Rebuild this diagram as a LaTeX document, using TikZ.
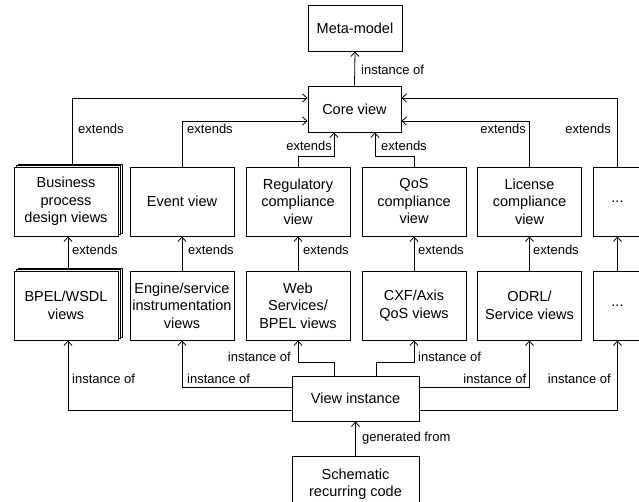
\documentclass[tikz,border=0pt]{standalone}
\usepackage{fontspec}
\setmainfont{Liberation Sans}
\usetikzlibrary{arrows.meta,shadows}
\begin{document}
\begin{tikzpicture}[x=1pt,y=-1pt,
  box/.style={draw, fill=white, line width=0.8pt, align=center, inner sep=1pt,
    font=\fontsize{14.5}{17.5}\selectfont, minimum width=104pt, minimum height=69pt},
  shbox/.style={box, double copy shadow={shadow xshift=2pt,shadow yshift=1.5pt}},
  lbl/.style={font=\fontsize{13}{15}\selectfont, inner sep=1pt},
  arr/.style={line width=0.8pt, -{Straight Barb[length=4.5pt,width=8pt]}}]
\useasboundingbox (0,0) rectangle (639,501);
\clip (0,0) rectangle (639,501);
% top
\node[box, minimum width=94pt, minimum height=46pt] (meta) at (355,28) {Meta-model};
\node[box, minimum width=93pt, minimum height=46pt] (core) at (354.5,109) {Core view};
% row 1
\node[shbox] (bus) at (66,201.5) {Business\\process\\design views};
\node[box] (ev) at (182,201.5) {Event view};
\node[box] (reg) at (298,201.5) {Regulatory\\compliance\\view};
\node[box] (qos) at (414,201.5) {QoS\\compliance\\view};
\node[box] (lic) at (529.5,201.5) {License\\compliance\\view};
\node[box, minimum width=49pt] (dotsa) at (617.5,201.5) {...};
% row 2
\node[shbox] (bpel) at (66,305.5) {BPEL/WSDL\\views};
\node[box] (eng) at (182,305.5) {Engine/service\\instrumentation\\views};
\node[box] (web) at (298,305.5) {Web\\Services/\\BPEL views};
\node[box] (cxf) at (414,305.5) {CXF/Axis\\QoS views};
\node[box] (odrl) at (529.5,305.5) {ODRL/\\Service views};
\node[box, minimum width=49pt] (dotsb) at (617.5,305.5) {...};
% bottom
\node[box, minimum width=127pt, minimum height=45pt] (vi) at (355.5,398.5) {View instance};
\node[box, minimum width=127pt, minimum height=56pt] (sch) at (355.5,484) {Schematic\\recurring code};

% meta
\draw[arr] (core.north) -- (meta.south);
\node[lbl, anchor=west] (lmeta) at (360,70) {instance of};
% row1 -> core
\draw[arr] ([xshift=6pt,yshift=3pt]bus.north) |- ([yshift=11pt]core.west);
\node[lbl, anchor=west] (lbus) at (77,129) {extends};
\draw[arr] (ev.north) |- ([yshift=-12pt]core.west);
\node[lbl, anchor=west] (lev) at (186,129) {extends};
\draw[arr] (reg.north) -- ++(0,-10) -| ([xshift=-20.5pt]core.south);
\node[lbl, anchor=east] (lreg) at (333,146) {extends};
\draw[arr] (qos.north) -- ++(0,-10) -| ([xshift=20.5pt]core.south);
\node[lbl, anchor=west] (lqos) at (380,146) {extends};
\draw[arr] (lic.north) |- ([yshift=-12pt]core.east);
\node[lbl, anchor=east] (llic) at (527,129) {extends};
\draw[arr] (dotsa.north) |- ([yshift=11pt]core.east);
\node[lbl, anchor=east] (ldots) at (612,129) {extends};
% row2 -> row1
\draw[arr] ([xshift=2pt,yshift=3pt]bpel.north) -- ([xshift=2pt]bus.south);
\node[lbl, anchor=west] (lbpel) at (71,250) {extends};
\draw[arr] (eng.north) -- (ev.south);
\node[lbl, anchor=west] (leng) at (187,250) {extends};
\draw[arr] (web.north) -- (reg.south);
\node[lbl, anchor=west] (lweb) at (302,250) {extends};
\draw[arr] (cxf.north) -- (qos.south);
\node[lbl, anchor=west] (lcxf) at (417,250) {extends};
\draw[arr] (odrl.north) -- (lic.south);
\node[lbl, anchor=west] (lodrl) at (532,250) {extends};
\draw[arr] (dotsb.north) -- (dotsa.south);
% view instance -> row2
\draw[arr] ([yshift=-11.5pt]vi.west) -| ([xshift=2pt]bpel.south);
\node[lbl, anchor=west] (ibpel) at (71,379) {instance of};
\draw[arr] ([yshift=11.5pt]vi.west) -| (eng.south);
\node[lbl, anchor=west] (ieng) at (186,379) {instance of};
\draw[arr] ([xshift=-21.5pt]vi.north) -- ++(0,-13) -| (web.south);
\node[lbl, anchor=east] (iweb) at (292,357) {instance of};
\draw[arr] ([xshift=20.5pt]vi.north) -- ++(0,-13) -| (cxf.south);
\node[lbl, anchor=west] (icxf) at (417,357) {instance of};
\draw[arr] ([yshift=11.5pt]vi.east) -| (odrl.south);
\node[lbl, anchor=east] (iodrl) at (527.5,379) {instance of};
\draw[arr] ([yshift=-11.5pt]vi.east) -| (dotsb.south);
\node[lbl, anchor=east] (idots) at (612,379) {instance of};
% generated
\draw[arr] (sch.north) -- (vi.south);
\node[lbl, anchor=west] (lgen) at (361,438) {generated from};
\end{tikzpicture}
\end{document}
